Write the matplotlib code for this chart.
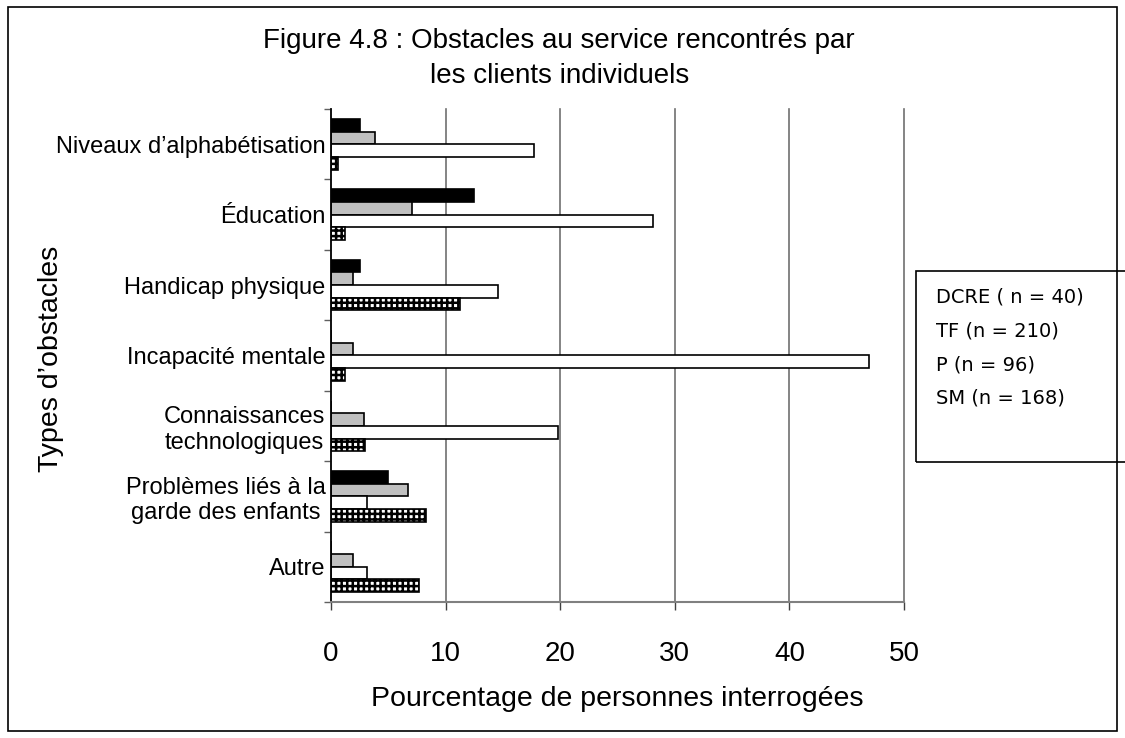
import matplotlib.pyplot as plt
import matplotlib.patches as mpatches
import numpy as np

plt.rcParams['font.family'] = ['Liberation Sans', 'DejaVu Sans']
plt.rcParams['hatch.linewidth'] = 1.8

categories = ["Niveaux d\u2019alphab\u00e9tisation", "\u00c9ducation", "Handicap physique",
              "Incapacit\u00e9 mentale", "Connaissances\ntechnologiques",
              "Probl\u00e8mes li\u00e9s \u00e0 la\ngarde des enfants", "Autre"]
dcre = [2.5, 12.5, 2.5, 0, 0, 5.0, 0]
tf = [3.8, 7.1, 1.9, 1.9, 2.9, 6.7, 1.9]
p = [17.7, 28.1, 14.6, 46.9, 19.8, 3.1, 3.1]
sm = [0.6, 1.2, 11.3, 1.2, 3.0, 8.3, 7.7]
legend_labels = ["DCRE ( n = 40)", "TF (n = 210)", "P (n = 96)", "SM (n = 168)"]
xticks = [0, 10, 20, 30, 40, 50]

fig = plt.figure(figsize=(11.25, 7.38), dpi=100)
ax = fig.add_axes([0.2942, 0.1843, 0.5094, 0.6680])

y = np.arange(len(categories))
h = 0.18
ax.barh(y - 1.5 * h, dcre, h, color='black', edgecolor='black', lw=1.2)
ax.barh(y - 0.5 * h, tf, h, color='#c0c0c0', edgecolor='black', lw=1.2)
ax.barh(y + 0.5 * h, p, h, color='white', edgecolor='black', lw=1.2)
ax.barh(y + 1.5 * h, sm, h, color='white', edgecolor='black', hatch='+++', lw=1.2)

ax.set_xlim(0, 50)
ax.set_ylim(len(categories) - 0.5, -0.5)
ax.set_xticks(xticks)
ax.set_xticklabels([str(t) for t in xticks], fontsize=20)
ax.tick_params(axis='x', length=6, width=1, color='#404040', pad=22)
ax.set_yticks(y)
ax.set_yticklabels(categories, fontsize=17, multialignment='center')
ax.tick_params(axis='y', length=0, pad=4)
ax.set_yticks(np.arange(len(categories) + 1) - 0.5, minor=True)
ax.tick_params(axis='y', which='minor', length=5, width=1, color='#606060')
ax.grid(axis='x', color='#707070', lw=1.2, clip_on=False)
ax.set_axisbelow(True)
for s in ['top', 'right']:
    ax.spines[s].set_visible(False)
ax.spines['bottom'].set_color('#808080')
ax.spines['bottom'].set_linewidth(1.5)
ax.spines['left'].set_linewidth(1.2)

fig.text(0.549, 0.0528, "Pourcentage de personnes interrog\u00e9es", ha='center', va='center',
         fontsize=20.5)
fig.text(0.0453, 0.514, "Types d\u2019obstacles", ha='center', va='center', rotation=90,
         fontsize=20.5)
fig.text(0.497, 0.944, "Figure 4.8 : Obstacles au service rencontr\u00e9s par",
         ha='center', va='center', fontsize=20)
fig.text(0.497, 0.897, "les clients individuels", ha='center', va='center', fontsize=20)

# outer frame
fig.patches.append(mpatches.Rectangle((0.007, 0.009), 0.986, 0.982, transform=fig.transFigure,
                                      fill=False, edgecolor='black', lw=1.2))
# legend box
fig.patches.append(mpatches.Rectangle((0.8138, 0.374), 0.2, 0.259, transform=fig.transFigure,
                                      fill=False, edgecolor='black', lw=1.2))
for i, lab in enumerate(legend_labels):
    fig.text(0.832, 0.597 - i * 0.0455, lab, ha='left', va='center', fontsize=14,
             family=['DejaVu Sans'])

fig.savefig('out.png', dpi=100)
